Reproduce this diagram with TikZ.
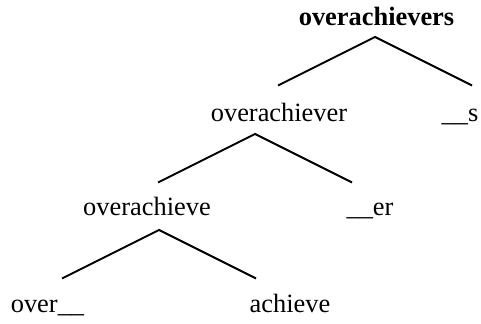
\documentclass[tikz,border=0pt]{standalone}
\usepackage{fontspec}
\setmainfont{Liberation Serif}
\usepackage{tikz}

\tikzset{
    word/.style={font=\fontsize{13.2}{15}\selectfont, inner sep=0pt, anchor=base},
    branch/.style={line width=1pt}
}

\begin{document}
\begin{tikzpicture}[x=0.5pt, y=-0.5pt]
    \useasboundingbox (0,0) rectangle (481,324);
    % the words, each on its baseline
    \node[word, font=\fontsize{13.2}{15}\selectfont\bfseries] (whole) at (376.5,26) {overachievers};
    \node[word] (stem) at (279,122) {overachiever};
    \node[word] (plural) at (460,122) {\_\_s};
    \node[word] (verb) at (147,216) {overachieve};
    \node[word] (agent) at (370,216) {\_\_er};
    \node[word] (prefix) at (47.5,313) {over\_\_};
    \node[word] (root) at (290,313) {achieve};
    % the branches under each word
    \foreach \a/\x/\y in {top/375/37, mid/255/134, low/159/230} {
        \coordinate (\a) at (\x,\y);
        \coordinate (\a l) at (\x-97,\y+48.5);
        \coordinate (\a r) at (\x+97,\y+48.5);
        \draw[branch] (\a l) -- (\a) -- (\a r);
    }
\end{tikzpicture}
\end{document}
